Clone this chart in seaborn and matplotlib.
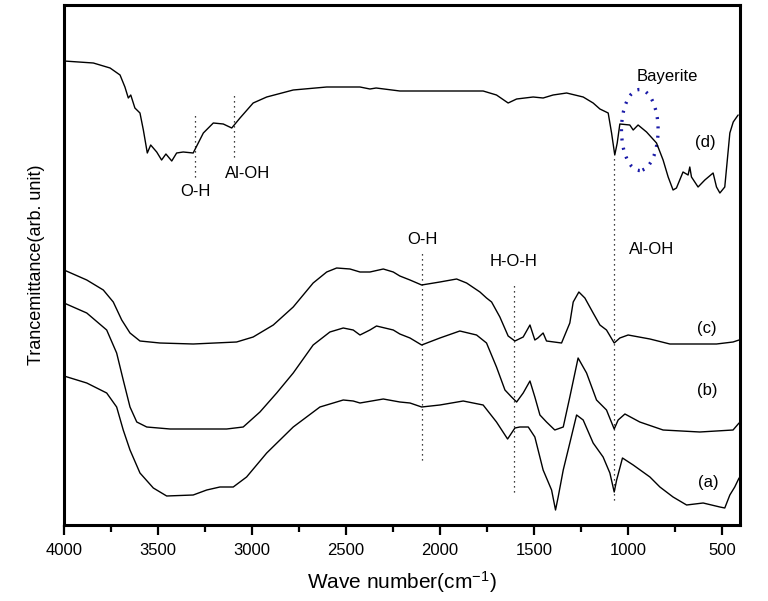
import numpy as np
import pandas as pd
import seaborn as sns
import matplotlib
matplotlib.use("Agg")
import matplotlib.pyplot as plt
from matplotlib.patches import Ellipse
from matplotlib.ticker import MultipleLocator

# ---- data (wave number in cm^-1, transmittance in arbitrary units) ----
wn_d = [4000, 3844, 3755, 3702, 3676, 3658, 3645, 3623, 3596, 3578, 3557, 3539, 3507, 3481,
        3458, 3427, 3401, 3366, 3313, 3259, 3206, 3153, 3108, 3064, 2994, 2922, 2781, 2603,
        2426, 2373, 2340, 2214, 2000, 1900, 1771, 1700, 1638, 1593, 1505, 1452, 1399, 1327,
        1239, 1186, 1150, 1106, 1088, 1071, 1058, 1044, 991, 973, 947, 902, 849, 814, 787,
        761, 743, 708, 681, 672, 663, 628, 592, 548, 530, 512, 486, 459, 441, 415]
t_d = [464, 462, 457, 450, 438, 427, 430, 417, 412, 395, 372, 380, 373, 365,
       371, 364, 372, 373, 372, 392, 402, 401, 397, 407, 422, 428, 435, 438,
       438, 436, 437, 434, 434, 434, 434, 430, 422, 426, 428, 427, 430, 432,
       428, 422, 416, 412, 392, 370, 382, 401, 400, 395, 400, 393, 382, 365, 348,
       335, 337, 353, 350, 358, 348, 338, 345, 352, 338, 332, 338, 392, 403, 410]

wn_c = [4000, 3879, 3791, 3738, 3693, 3649, 3596, 3490, 3313, 3082, 2994, 2887, 2781, 2675,
        2603, 2550, 2479, 2426, 2373, 2302, 2249, 2214, 2160, 2098, 2001, 1912, 1859, 1788,
        1753, 1726, 1682, 1638, 1602, 1558, 1522, 1496, 1480, 1452, 1434, 1354, 1310, 1292,
        1262, 1230, 1186, 1150, 1115, 1074, 1044, 1000, 884, 778, 530, 442, 410]
t_c = [255, 245, 235, 223, 205, 192, 184, 182, 181, 183, 188, 200, 218, 242,
       253, 257, 256, 253, 253, 256, 253, 249, 245, 240, 243, 246, 242, 233,
       227, 223, 208, 189, 184, 188, 200, 185, 187, 192, 184, 182, 202, 223,
       233, 227, 212, 200, 195, 182, 187, 190, 186, 181, 181, 183, 185]

wn_b = [4000, 3879, 3773, 3720, 3685, 3649, 3613, 3560, 3436, 3135, 3047, 2958, 2869, 2781,
        2675, 2586, 2515, 2462, 2426, 2373, 2338, 2249, 2214, 2160, 2098, 2001, 1895, 1806,
        1753, 1700, 1655, 1620, 1593, 1558, 1522, 1496, 1469, 1434, 1390, 1345, 1310, 1266,
        1221, 1168, 1115, 1074, 1053, 1017, 938, 814, 619, 442, 410]
t_b = [222, 212, 195, 172, 145, 118, 103, 98, 96, 96, 98, 113, 132, 152,
       180, 193, 197, 195, 190, 195, 199, 195, 191, 187, 180, 187, 194, 190,
       182, 158, 135, 128, 123, 132, 144, 128, 110, 103, 95, 98, 128, 167,
       152, 125, 115, 96, 105, 111, 103, 95, 93, 95, 102]

wn_a = [4000, 3879, 3773, 3720, 3685, 3649, 3596, 3525, 3454, 3313, 3241, 3171, 3100, 3029,
        2922, 2781, 2639, 2515, 2462, 2426, 2302, 2214, 2160, 2098, 2001, 1877, 1771, 1700,
        1641, 1602, 1576, 1531, 1496, 1452, 1407, 1386, 1372, 1345, 1310, 1274, 1239, 1186,
        1133, 1097, 1074, 1061, 1030, 973, 884, 831, 761, 689, 601, 512, 486, 459, 433, 410]
t_a = [149, 142, 132, 118, 95, 75, 52, 37, 29, 30, 35, 38, 38, 48,
       72, 98, 118, 125, 124, 122, 126, 123, 122, 118, 120, 124, 120, 103,
       86, 97, 98, 98, 88, 55, 35, 15, 28, 55, 82, 110, 105, 82,
       68, 52, 33, 45, 67, 60, 48, 38, 28, 20, 22, 18, 17, 30, 38, 47]

series_names = ["(a)", "(b)", "(c)", "(d)"]

# ---- annotations ----
peak_labels = ["O-H", "Al-OH", "O-H", "H-O-H", "Al-OH"]
peak_text_x = [3303, 3022, 2093, 1607, 875]
peak_text_y = [334, 351, 286, 263, 276]
vline_x = [3303, 3096, 2098, 1609, 1074]
vline_top = [410, 432, 273, 242, 368]
vline_bottom = [348, 368, 65, 33, 25]
curve_label_x = [576, 581, 583, 592]
curve_label_y = [43, 135, 196, 382]

frames = []
for name, x, y in zip(series_names, [wn_a, wn_b, wn_c, wn_d], [t_a, t_b, t_c, t_d]):
    frames.append(pd.DataFrame({"wn": x, "T": y, "sample": name}))
df = pd.concat(frames, ignore_index=True)

sns.set_style("ticks")
plt.rcParams["font.family"] = ["Liberation Sans", "DejaVu Sans"]
plt.rcParams["mathtext.fontset"] = "custom"
plt.rcParams["mathtext.rm"] = "Liberation Sans"
plt.rcParams["mathtext.default"] = "regular"
plt.rcParams["axes.unicode_minus"] = False
for key in ["text.color", "axes.labelcolor", "xtick.color", "ytick.color"]:
    plt.rcParams[key] = "black"

fig = plt.figure(figsize=(7.68, 6.01), dpi=100)
ax = fig.add_axes([64 / 768, 1 - 525 / 601, 676 / 768, 520 / 601])

sns.lineplot(data=df, x="wn", y="T", hue="sample", units="sample", estimator=None,
             palette=["black"] * 4, legend=False, linewidth=1.0, ax=ax, sort=True)

for x, y0, y1 in zip(vline_x, vline_bottom, vline_top):
    ax.plot([x, x], [y0, y1], color="black", linewidth=0.9, linestyle=(0, (1, 3)))

for lab, x, y in zip(peak_labels, peak_text_x, peak_text_y):
    ax.text(x, y, lab, ha="center", va="center", fontsize=12)

for lab, x, y in zip(series_names, curve_label_x, curve_label_y):
    ax.text(x, y, lab, ha="center", va="center", fontsize=12)

ax.text(789, 449, "Bayerite", ha="center", va="center", fontsize=12)
ax.add_patch(Ellipse((938, 395), 195, 81, fill=False, edgecolor="#1a1aa8",
                     linewidth=2.4, linestyle=(0, (0.6, 2.2))))

ax.set_xlim(4000, 405)
ax.set_ylim(0, 520)
ax.set_yticks([])
ax.xaxis.set_major_locator(MultipleLocator(500))
ax.xaxis.set_minor_locator(MultipleLocator(250))
ax.tick_params(axis="x", which="major", length=7, width=1.6, direction="out",
               labelsize=12, pad=6)
ax.tick_params(axis="x", which="minor", length=5, width=1.6, direction="out")
for sp in ax.spines.values():
    sp.set_visible(True)
    sp.set_linewidth(2.2)
    sp.set_color("black")

ax.set_xlabel("Wave number(cm$^{-1}$)", fontsize=15, labelpad=8)
ax.set_ylabel("Trancemittance(arb. unit)", fontsize=13, labelpad=14)

fig.savefig("out.png", dpi=100)
